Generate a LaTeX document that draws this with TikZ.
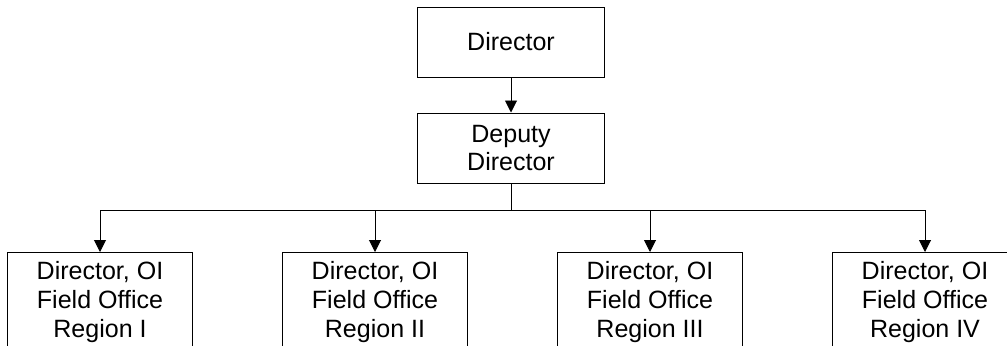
\documentclass[tikz,border=0pt]{standalone}
\usepackage{fontspec}
\setmainfont{Liberation Sans}
\usetikzlibrary{arrows.meta}

\tikzset{
  box/.style={draw=black, line width=0.7pt, align=center, minimum width=4.6cm,
    font=\fontsize{17.8}{20.6}\selectfont},
  link/.style={line width=0.7pt, -{Triangle[length=0.3cm, width=0.3cm]}}
}

\begin{document}
\begin{tikzpicture}[x=0.025cm, y=-0.025cm]

   \useasboundingbox (0,0) rectangle (1007,345);

   \node[box, minimum width=4.65cm, minimum height=1.75cm] (director) at (511,42) {Director};
   \node[box, minimum width=4.65cm, minimum height=1.75cm] (deputy) at (511,148) {Deputy\\Director};

   \coordinate (bus) at (511,210);
   \draw[line width=0.7pt] (deputy.south) -- (bus);
   \draw[link] (director.south) -- (deputy.north);

   \foreach \x/\r [count=\i] in {100/I, 375/II, 650/III, 925/IV} {
      \node[box, anchor=north, inner ysep=0.225cm] (region\i) at (\x,252)
         {Director, OI\\Field Office\\Region \r};
      \draw[link] (bus) -| (region\i.north);
   }
  \end{tikzpicture}
\end{document}
